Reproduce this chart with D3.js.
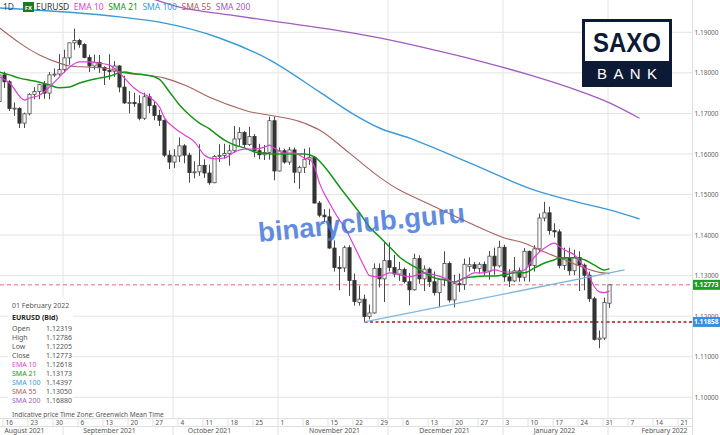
<!DOCTYPE html>
<html><head><meta charset="utf-8">
<script src="https://cdn.jsdelivr.net/npm/d3@7"></script>
<style>html,body{margin:0;padding:0;background:#fff;}svg{display:block;font-family:"Noto Sans","Open Sans",sans-serif;}</style>
</head><body><svg id="c" width="720" height="435"></svg>
<script>
// ---------------- DATA ----------------
const firstDay = "2021-08-13";      // first candle (trading days, Mon-Fri)
const lastAxisDay = "2022-02-25";   // axis runs past the data
const symbol = "EURUSD";
const infoDate = "01 February 2022";
const open  = [1.1729,1.1795,1.1778,1.1711,1.1712,1.1676,1.1699,1.1747,1.1754,1.1771,1.1750,1.1795,1.1797,1.1808,1.1837,1.1874,1.1880,1.1870,1.1838,1.1817,1.1826,1.1813,1.1806,1.1804,1.1817,1.1765,1.1726,1.1727,1.1724,1.1688,1.1741,1.1719,1.1695,1.1683,1.1597,1.1580,1.1595,1.1620,1.1597,1.1554,1.1556,1.1572,1.1553,1.1529,1.1594,1.1596,1.1601,1.1608,1.1637,1.1653,1.1623,1.1643,1.1608,1.1598,1.1604,1.1682,1.1558,1.1608,1.1580,1.1610,1.1555,1.1567,1.1587,1.1592,1.1479,1.1449,1.1445,1.1368,1.1320,1.1319,1.1369,1.1288,1.1234,1.1242,1.1199,1.1208,1.1318,1.1292,1.1337,1.1320,1.1304,1.1315,1.1285,1.1265,1.1342,1.1292,1.1316,1.1285,1.1258,1.1290,1.1330,1.1240,1.1280,1.1278,1.1322,1.1327,1.1318,1.1328,1.1311,1.1348,1.1324,1.1370,1.1297,1.1287,1.1312,1.1296,1.1360,1.1325,1.1366,1.1442,1.1455,1.1411,1.1408,1.1325,1.1343,1.1312,1.1345,1.1326,1.1301,1.1243,1.1143,1.1146,1.12319];
const high  = [1.1797,1.1803,1.1782,1.1727,1.1715,1.1702,1.1750,1.1765,1.1773,1.1780,1.1802,1.1811,1.1846,1.1857,1.1874,1.1909,1.1884,1.1873,1.1845,1.1845,1.1844,1.1816,1.1846,1.1829,1.1819,1.1793,1.1755,1.1751,1.1745,1.1751,1.1749,1.1728,1.1709,1.1685,1.1609,1.1612,1.1641,1.1624,1.1603,1.1582,1.1624,1.1587,1.1574,1.1597,1.1624,1.1625,1.1623,1.1669,1.1666,1.1657,1.1667,1.1649,1.1625,1.1622,1.1692,1.1692,1.1616,1.1613,1.1617,1.1616,1.1571,1.1613,1.1616,1.1594,1.1484,1.1464,1.1465,1.1387,1.1348,1.1374,1.1375,1.1305,1.1275,1.1253,1.1229,1.1330,1.1330,1.1383,1.1382,1.1351,1.1334,1.1320,1.1306,1.1354,1.1350,1.1325,1.1320,1.1310,1.1292,1.1360,1.1335,1.1302,1.1305,1.1342,1.1345,1.1334,1.1333,1.1335,1.1361,1.1369,1.1386,1.1376,1.1316,1.1346,1.1320,1.1368,1.1362,1.1375,1.1453,1.1482,1.1470,1.1429,1.1414,1.1369,1.1369,1.1364,1.1360,1.1330,1.1310,1.1248,1.1165,1.1246,1.12786];
const low   = [1.1724,1.1763,1.1706,1.1694,1.1664,1.1664,1.1695,1.1735,1.1735,1.1736,1.1735,1.1790,1.1793,1.1801,1.1820,1.1857,1.1862,1.1836,1.1802,1.1808,1.1800,1.1770,1.1783,1.1790,1.1752,1.1723,1.1700,1.1716,1.1683,1.1684,1.1701,1.1683,1.1669,1.1592,1.1563,1.1565,1.1580,1.1577,1.1529,1.1540,1.1546,1.1541,1.1524,1.1528,1.1580,1.1588,1.1571,1.1603,1.1620,1.1617,1.1620,1.1592,1.1587,1.1585,1.1586,1.1535,1.1557,1.1576,1.1573,1.1528,1.1514,1.1553,1.1573,1.1478,1.1444,1.1432,1.1366,1.1310,1.1264,1.1309,1.1250,1.1226,1.1226,1.11858,1.1192,1.1206,1.1271,1.1235,1.1310,1.1296,1.1287,1.1281,1.1227,1.1263,1.1280,1.1262,1.1272,1.1251,1.1222,1.1274,1.1234,1.1222,1.1260,1.1265,1.1310,1.1310,1.1305,1.1300,1.1290,1.1302,1.1320,1.1285,1.1272,1.1284,1.1285,1.1286,1.1285,1.1310,1.1358,1.1434,1.1401,1.1394,1.1318,1.1314,1.1301,1.1301,1.1262,1.1264,1.1235,1.1140,1.1121,1.1141,1.12205];
const close = [1.1795,1.1778,1.1712,1.1713,1.1676,1.1699,1.1747,1.1754,1.1771,1.1750,1.1795,1.1797,1.1808,1.1837,1.1874,1.1880,1.1870,1.1838,1.1817,1.1826,1.1813,1.1806,1.1804,1.1817,1.1765,1.1726,1.1727,1.1724,1.1688,1.1741,1.1719,1.1695,1.1683,1.1597,1.1580,1.1595,1.1620,1.1597,1.1554,1.1556,1.1572,1.1553,1.1529,1.1594,1.1596,1.1601,1.1608,1.1637,1.1653,1.1623,1.1643,1.1608,1.1598,1.1604,1.1682,1.1558,1.1608,1.1580,1.1610,1.1555,1.1567,1.1587,1.1592,1.1479,1.1449,1.1445,1.1368,1.1320,1.1319,1.1369,1.1288,1.1236,1.1242,1.1199,1.1208,1.1318,1.1292,1.1337,1.1320,1.1304,1.1315,1.1285,1.1265,1.1342,1.1292,1.1316,1.1285,1.1258,1.1290,1.1330,1.1240,1.1280,1.1278,1.1328,1.1327,1.1318,1.1328,1.1311,1.1348,1.1324,1.1370,1.1297,1.1287,1.1312,1.1296,1.1360,1.1325,1.1366,1.1442,1.1455,1.1411,1.1408,1.1325,1.1343,1.1312,1.1345,1.1326,1.1301,1.1243,1.1143,1.1146,1.1234,1.12773];

const ema10Dates = ["2021-08-13","2021-08-17","2021-08-20","2021-08-23","2021-08-25","2021-08-27","2021-08-31","2021-09-02","2021-09-06","2021-09-08","2021-09-10","2021-09-14","2021-09-16","2021-09-17","2021-09-21","2021-09-22","2021-09-24","2021-09-28","2021-09-29","2021-10-01","2021-10-05","2021-10-07","2021-10-11","2021-10-13","2021-10-15","2021-10-19","2021-10-21","2021-10-25","2021-10-27","2021-10-28","2021-10-29","2021-11-02","2021-11-04","2021-11-08","2021-11-09","2021-11-10","2021-11-11","2021-11-15","2021-11-17","2021-11-18","2021-11-22","2021-11-24","2021-11-25","2021-11-29","2021-12-01","2021-12-03","2021-12-07","2021-12-10","2021-12-14","2021-12-16","2021-12-20","2021-12-22","2021-12-24","2021-12-28","2021-12-30","2022-01-03","2022-01-05","2022-01-07","2022-01-11","2022-01-13","2022-01-17","2022-01-18","2022-01-19","2022-01-21","2022-01-25","2022-01-26","2022-01-27","2022-01-28","2022-01-31","2022-02-01"];
const ema10 = [1.1790,1.1775,1.1733,1.1738,1.1745,1.1765,1.1790,1.1814,1.1827,1.1827,1.1824,1.1819,1.1800,1.1787,1.1762,1.1753,1.1740,1.1716,1.1689,1.1664,1.1647,1.1630,1.1597,1.1588,1.1590,1.1605,1.1612,1.1612,1.1617,1.1622,1.1614,1.1602,1.1602,1.1590,1.1587,1.1568,1.1528,1.1479,1.1437,1.1420,1.1371,1.1321,1.1300,1.1297,1.1307,1.1302,1.1297,1.1307,1.1302,1.1294,1.1284,1.1294,1.1307,1.1307,1.1314,1.1309,1.1309,1.1314,1.1346,1.1368,1.1380,1.1371,1.1363,1.1351,1.1319,1.1297,1.1272,1.1260,1.1258,1.12618];
const sma21Dates = ["2021-08-13","2021-08-17","2021-08-19","2021-08-23","2021-08-25","2021-08-27","2021-08-31","2021-09-02","2021-09-06","2021-09-08","2021-09-10","2021-09-14","2021-09-16","2021-09-17","2021-09-21","2021-09-23","2021-09-27","2021-09-28","2021-09-30","2021-10-04","2021-10-06","2021-10-08","2021-10-12","2021-10-13","2021-10-15","2021-10-19","2021-10-21","2021-10-25","2021-10-27","2021-10-29","2021-11-02","2021-11-04","2021-11-08","2021-11-10","2021-11-15","2021-11-17","2021-11-19","2021-11-23","2021-11-25","2021-11-29","2021-12-01","2021-12-03","2021-12-07","2021-12-08","2021-12-10","2021-12-14","2021-12-16","2021-12-20","2021-12-22","2021-12-24","2021-12-28","2021-12-30","2022-01-03","2022-01-05","2022-01-07","2022-01-11","2022-01-13","2022-01-17","2022-01-18","2022-01-21","2022-01-25","2022-01-27","2022-01-31","2022-02-01"];
const sma21 = [1.1802,1.1795,1.1787,1.1782,1.1777,1.1770,1.1763,1.1765,1.1775,1.1782,1.1787,1.1792,1.1800,1.1802,1.1798,1.1795,1.1790,1.1784,1.1753,1.1721,1.1696,1.1676,1.1662,1.1652,1.1634,1.1622,1.1615,1.1605,1.1602,1.1600,1.1600,1.1600,1.1600,1.1593,1.1553,1.1519,1.1487,1.1455,1.1420,1.1396,1.1371,1.1346,1.1329,1.1322,1.1307,1.1294,1.1290,1.1284,1.1294,1.1297,1.1299,1.1299,1.1302,1.1307,1.1307,1.1319,1.1331,1.1339,1.1344,1.1344,1.1339,1.1326,1.1314,1.13173];
const sma55Dates = ["2021-08-13","2021-08-19","2021-08-25","2021-08-31","2021-09-02","2021-09-08","2021-09-14","2021-09-17","2021-09-23","2021-09-29","2021-10-05","2021-10-12","2021-10-21","2021-11-08","2021-11-11","2021-11-19","2021-11-29","2021-12-03","2021-12-07","2021-12-15","2021-12-23","2022-01-03","2022-01-07","2022-01-13","2022-01-19","2022-01-25","2022-01-28","2022-02-01"];
const sma55 = [1.1911,1.1874,1.1844,1.1824,1.1817,1.1814,1.1810,1.1800,1.1795,1.1787,1.1770,1.1740,1.1708,1.1676,1.1659,1.1602,1.1543,1.1511,1.1499,1.1464,1.1430,1.1393,1.1380,1.1358,1.1339,1.1319,1.1308,1.13050];
const sma100Dates = ["2021-08-13","2021-09-16","2021-09-28","2021-10-14","2021-10-28","2021-11-11","2021-11-19","2021-11-29","2021-12-07","2021-12-23","2022-01-11","2022-01-25","2022-02-01","2022-02-09"];
const sma100 = [1.1960,1.1938,1.1925,1.1886,1.1832,1.1753,1.1704,1.1664,1.1639,1.1578,1.1511,1.1477,1.1462,1.14397];
const sma200Dates = ["2021-09-24","2021-10-04","2021-10-18","2021-11-01","2021-11-15","2021-11-29","2021-12-13","2021-12-27","2022-01-10","2022-01-24","2022-02-01","2022-02-09"];
const sma200 = [1.1985,1.1962,1.1943,1.1925,1.1908,1.1886,1.1859,1.1829,1.1795,1.1755,1.1726,1.16880];

const trendDates = ["2021-11-24","2022-02-04"];
const trendValues = [1.11858,1.1314];
const lastPrice = 1.12773;
const supportLevel = 1.11858;
const supportFrom = "2021-11-24";

const yTicks = [1.10,1.11,1.12,1.13,1.14,1.15,1.16,1.17,1.18,1.19];
const monthNames = ["August 2021","September 2021","October 2021","November 2021","December 2021","January 2022","February 2022"];
const monthLabelAt = ["2021-08-20","2021-09-14","2021-10-12","2021-11-16","2021-12-16","2022-01-17","2022-02-16"];
const seriesNames = ["EMA 10","SMA 21","SMA 100","SMA 55","SMA 200"];
const watermark = "binaryclub.guru";

// ---------------- CHART ----------------
const svg = d3.select("#c");
const plotR = 692, plotB = 418;
const parse = d3.utcParse("%Y-%m-%d"), fmt = d3.utcFormat("%Y-%m-%d");
const days = d3.utcDays(parse(firstDay), d3.utcDay.offset(parse(lastAxisDay),1)).filter(d => d.getUTCDay()%6 !== 0);
const idx = new Map(days.map((d,i)=>[fmt(d),i]));
const x = d3.scaleLinear().domain([0,1]).range([-0.5,4.5]);
const xd = s => x(idx.get(s));
const y = d3.scaleLinear().domain([1.10,1.19]).range([397.3,32.3]);

const colors = {ema10:"#e03fd6", sma21:"#159515", sma100:"#3b9ad8", sma55:"#a8625f", sma200:"#a35bc0"};
const seriesColors = [colors.ema10, colors.sma21, colors.sma100, colors.sma55, colors.sma200];

svg.append("defs").append("clipPath").attr("id","plot").append("rect").attr("x",0).attr("y",0).attr("width",plotR).attr("height",plotB);
const plot = svg.append("g").attr("clip-path","url(#plot)");

// grid
plot.append("g").selectAll("line").data(yTicks).join("line")
  .attr("x1",0).attr("x2",plotR).attr("y1",d=>y(d)).attr("y2",d=>y(d))
  .attr("stroke","#e4e4e4").attr("stroke-width",1);
const monthStarts = days.filter((d,i)=> i>0 && d.getUTCMonth()!==days[i-1].getUTCMonth()).map(d=>idx.get(fmt(d)));
plot.append("g").selectAll("line").data(monthStarts).join("line")
  .attr("x1",i=>x(i)-1.5).attr("x2",i=>x(i)-1.5).attr("y1",0).attr("y2",plotB)
  .attr("stroke","#e4e4e4").attr("stroke-width",1);

// reference levels
plot.append("line").attr("x1",0).attr("x2",plotR).attr("y1",y(lastPrice)).attr("y2",y(lastPrice))
  .attr("stroke","#e06a7a").attr("stroke-width",1).attr("stroke-dasharray","4,3");
plot.append("line").attr("x1",xd(supportFrom)).attr("x2",plotR).attr("y1",y(supportLevel)).attr("y2",y(supportLevel))
  .attr("stroke","#b0141a").attr("stroke-width",1.6).attr("stroke-dasharray","3,2.5");

// candles
const candles = plot.append("g");
open.forEach((o,i)=>{
  const c = close[i], up = c >= o, cx = x(i);
  candles.append("line").attr("x1",cx).attr("x2",cx).attr("y1",y(high[i])).attr("y2",y(low[i]))
    .attr("stroke","#4a4a4a").attr("stroke-width",1);
  const top = y(Math.max(o,c)), bot = y(Math.min(o,c));
  candles.append("rect").attr("x",cx-1.6).attr("width",3.2).attr("y",top).attr("height",Math.max(1,bot-top))
    .attr("fill", up ? "#fff" : "#333").attr("stroke", up ? "#4a4a4a" : "#333").attr("stroke-width",0.8);
});

// indicator lines
const line = d3.line().x(d=>xd(d[0])).y(d=>y(d[1])).curve(d3.curveMonotoneX);
function drawLine(dates, vals, col, w){
  plot.append("path").datum(dates.map((d,i)=>[d,vals[i]])).attr("d",line)
    .attr("fill","none").attr("stroke",col).attr("stroke-width",w);
}
drawLine(sma200Dates, sma200, colors.sma200, 1.3);
drawLine(sma100Dates, sma100, colors.sma100, 1.4);
drawLine(sma55Dates, sma55, colors.sma55, 1.1);
drawLine(sma21Dates, sma21, colors.sma21, 1.5);
drawLine(ema10Dates, ema10, colors.ema10, 1.2);

// trend line
plot.append("line").attr("x1",xd(trendDates[0])).attr("y1",y(trendValues[0]))
  .attr("x2",xd(trendDates[1])).attr("y2",y(trendValues[1]))
  .attr("stroke","#80b6dc").attr("stroke-width",1.3);

// watermark
svg.append("text").text(watermark)
  .attr("transform","translate(259,242) rotate(-5.5)")
  .attr("font-family","'Liberation Sans',Arial,sans-serif").attr("font-weight","bold")
  .attr("font-size",27.5).attr("fill","#3d72d8").attr("fill-opacity",0.82);

// logo
const logo = svg.append("g");
logo.append("rect").attr("x",582).attr("y",19).attr("width",90).attr("height",68).attr("fill","#0c1a35");
logo.append("rect").attr("x",585).attr("y",22).attr("width",84).attr("height",39).attr("fill","#fff");
logo.append("text").text("SAXO").attr("x",627).attr("y",52).attr("text-anchor","middle")
  .attr("font-family","'Liberation Sans',Arial,sans-serif").attr("font-weight","bold").attr("font-size",28)
  .attr("textLength",68).attr("lengthAdjust","spacingAndGlyphs").attr("fill","#0c1a35");
logo.append("text").text("BANK").attr("x",627).attr("y",79).attr("text-anchor","middle")
  .attr("font-family","'Liberation Sans',Arial,sans-serif").attr("font-size",15)
  .attr("textLength",60).attr("lengthAdjust","spacing").attr("fill","#fff");

// legend
const leg = svg.append("g").attr("font-size",8.5);
leg.append("text").text("1D").attr("x",3).attr("y",10).attr("fill","#444");
leg.append("rect").attr("x",23).attr("y",2).attr("width",11).attr("height",10).attr("fill","#1d7a24");
leg.append("text").text("FX").attr("x",28.5).attr("y",9.6).attr("text-anchor","middle").attr("font-size",6).attr("font-weight","bold").attr("fill","#fff");
let lx = 36;
[[symbol,"#333"]].concat(seriesNames.map((n,i)=>[n,seriesColors[i]])).forEach(([t,c])=>{
  const tx = leg.append("text").text(t).attr("x",lx).attr("y",10).attr("fill",c);
  lx += tx.node().getComputedTextLength() + 4.5;
});

// info box
const info = svg.append("g").attr("font-size",7);
info.append("rect").attr("x",8).attr("y",297).attr("width",65).attr("height",112).attr("fill","#fff").attr("fill-opacity",0.88);
info.append("text").text(infoDate).attr("x",12).attr("y",307.5).attr("fill","#555");
info.append("text").text(symbol+" (Bid)").attr("x",12).attr("y",319.5).attr("fill","#222").attr("font-weight","bold");
const last = open.length-1;
const rows = [["Open",open[last],"#555"],["High",high[last],"#555"],["Low",low[last],"#555"],["Close",close[last],"#555"],
  [seriesNames[0],ema10[ema10.length-1],colors.ema10],[seriesNames[1],sma21[sma21.length-1],colors.sma21],
  [seriesNames[2],sma100[sma100.length-1],colors.sma100],[seriesNames[3],sma55[sma55.length-1],colors.sma55],
  [seriesNames[4],sma200[sma200.length-1],colors.sma200]];
rows.forEach((r,i)=>{
  const yy = 330.5 + i*9.1;
  info.append("text").text(r[0]).attr("x",12).attr("y",yy).attr("fill",r[2]);
  info.append("text").text(d3.format(".5f")(r[1])).attr("x",46).attr("y",yy).attr("fill","#555");
});
svg.append("text").text("Indicative price").attr("x",12).attr("y",416.5).attr("font-size",6.5).attr("fill","#555");
svg.append("text").text("Time Zone: Greenwich Mean Time").attr("x",60).attr("y",416.5).attr("font-size",6.5).attr("fill","#555");

// right axis
svg.append("line").attr("x1",plotR+0.5).attr("x2",plotR+0.5).attr("y1",0).attr("y2",435).attr("stroke","#e0e0e0");
const yAxis = svg.append("g").attr("transform",`translate(${plotR},0)`)
  .call(d3.axisRight(y).tickValues(yTicks).tickFormat(d3.format(".5f")).tickSize(0).tickPadding(2.5));
yAxis.select(".domain").remove();
yAxis.selectAll("text").attr("font-size",6.5).attr("fill","#666").attr("font-family","'Noto Sans',sans-serif");

// price tags
function tag(v, col){
  svg.append("rect").attr("x",plotR+1).attr("y",y(v)-5).attr("width",720-plotR-1).attr("height",10).attr("fill",col);
  svg.append("text").text(d3.format(".5f")(v)).attr("x",plotR+2).attr("y",y(v)+2.4)
    .attr("font-size",6.6).attr("font-weight","bold").attr("fill","#fff");
}
tag(lastPrice,"#1f9d22");
tag(supportLevel,"#3a8fe0");

// bottom time axis
const ax = svg.append("g");
ax.append("line").attr("x1",0).attr("x2",plotR).attr("y1",418.5).attr("y2",418.5).attr("stroke","#e0e0e0");
ax.append("line").attr("x1",0).attr("x2",plotR).attr("y1",426.5).attr("y2",426.5).attr("stroke","#e0e0e0");
const mondays = days.map((d,i)=>[d,i]).filter(([d])=>d.getUTCDay()===1);
ax.selectAll(".wk").data(mondays).join("line").attr("class","wk")
  .attr("x1",d=>x(d[1])-1.5).attr("x2",d=>x(d[1])-1.5).attr("y1",418.5).attr("y2",426.5).attr("stroke","#e0e0e0");
ax.selectAll(".wkt").data(mondays).join("text").attr("class","wkt")
  .attr("x",d=>x(d[1])+1).attr("y",424.8).text(d=>d3.utcFormat("%-d")(d[0]))
  .attr("font-size",6.5).attr("fill","#555");
ax.selectAll(".ms").data(monthStarts).join("line").attr("class","ms")
  .attr("x1",i=>x(i)-1.5).attr("x2",i=>x(i)-1.5).attr("y1",426.5).attr("y2",435).attr("stroke","#e0e0e0");
ax.selectAll(".mt").data(monthNames).join("text").attr("class","mt")
  .attr("x",(m,i)=>xd(monthLabelAt[i])).attr("y",433.3).attr("text-anchor","middle").text(m=>m)
  .attr("font-size",6.8).attr("fill","#555");
</script>
</body></html>
